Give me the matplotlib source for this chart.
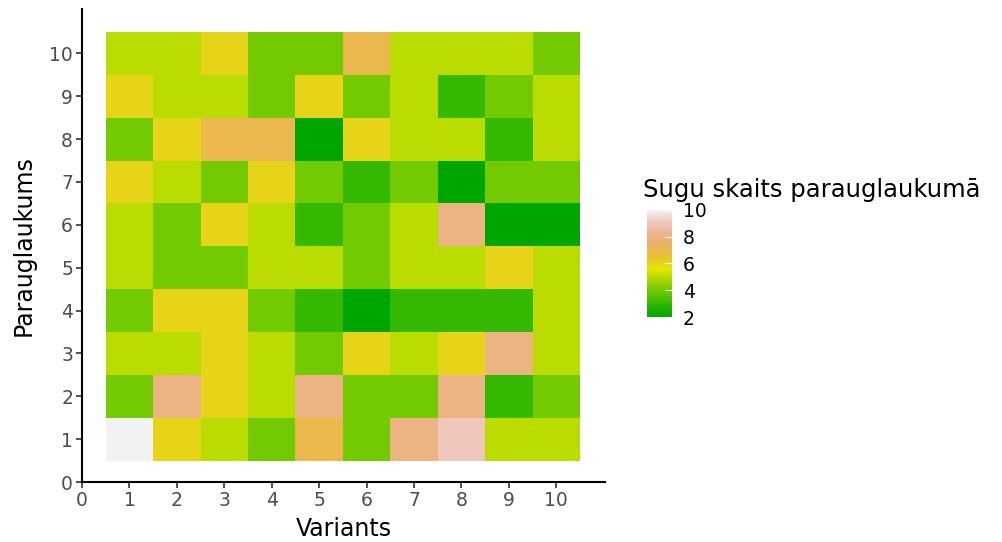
import numpy as np
import matplotlib.pyplot as plt
from matplotlib.colors import LinearSegmentedColormap

plt.rcParams['font.family'] = ['DejaVu Sans']

# species count per plot; rows are plots 1..10, columns are variants 1..10
variants = list(range(1, 11))
plots = list(range(1, 11))
counts = [
    [10, 6, 5, 4, 7, 4, 8, 9, 5, 5],   # plot 1
    [4, 8, 6, 5, 8, 4, 4, 8, 3, 4],    # plot 2
    [5, 5, 6, 5, 4, 6, 5, 6, 8, 5],    # plot 3
    [4, 6, 6, 4, 3, 2, 3, 3, 3, 5],    # plot 4
    [5, 4, 4, 5, 5, 4, 5, 5, 6, 5],    # plot 5
    [5, 4, 6, 5, 3, 4, 5, 8, 2, 2],    # plot 6
    [6, 5, 4, 6, 4, 3, 4, 2, 4, 4],    # plot 7
    [4, 6, 7, 7, 2, 6, 5, 5, 3, 5],    # plot 8
    [6, 5, 5, 4, 6, 4, 5, 3, 4, 5],    # plot 9
    [5, 5, 6, 4, 4, 7, 5, 5, 5, 4],    # plot 10
]
ticks = list(range(0, 11))
bar_ticks = [2, 4, 6, 8, 10]

# R terrain.colors(10)
terrain = ["#00A600", "#2DB600", "#63C600", "#A0D600", "#E6E600",
           "#E8C32E", "#EBB25E", "#EDB48E", "#F0C9C0", "#F2F2F2"]
cmap = LinearSegmentedColormap.from_list("terrain10", terrain)

fig = plt.figure(figsize=(10.03, 5.42), dpi=100)
ax = fig.add_axes([0.0818, 0.1107, 0.5215, 0.8723])

x_edges = np.arange(0.5, len(variants) + 1, 1)
y_edges = np.arange(0.5, len(plots) + 1, 1)
mesh = ax.pcolormesh(x_edges, y_edges, np.array(counts), cmap=cmap,
                     vmin=2, vmax=10, shading='flat')

ax.set_xlim(0, 11.03)
ax.set_ylim(0, 11.03)
ax.set_xticks(ticks)
ax.set_yticks(ticks)
ax.tick_params(colors='#333333', labelcolor='#4D4D4D', labelsize=13.5,
               length=4, width=1.2, pad=2.5)
for side in ['top', 'right']:
    ax.spines[side].set_visible(False)
for side in ['left', 'bottom']:
    ax.spines[side].set_linewidth(1.5)
ax.set_xlabel('Variants', fontsize=17, labelpad=5)
ax.set_ylabel('Parauglaukums', fontsize=17, labelpad=10)

cax = fig.add_axes([0.645, 0.415, 0.025, 0.198])
cb = fig.colorbar(mesh, cax=cax, ticks=bar_ticks)
cb.outline.set_visible(False)
cax.tick_params(color='white', direction='in', length=5, width=0.8,
                labelcolor='black', labelsize=13.5, pad=8)
fig.text(0.641, 0.6365, 'Sugu skaits parauglaukumā', fontsize=17.5,
         ha='left', va='baseline')

fig.savefig('out.png', dpi=100)
